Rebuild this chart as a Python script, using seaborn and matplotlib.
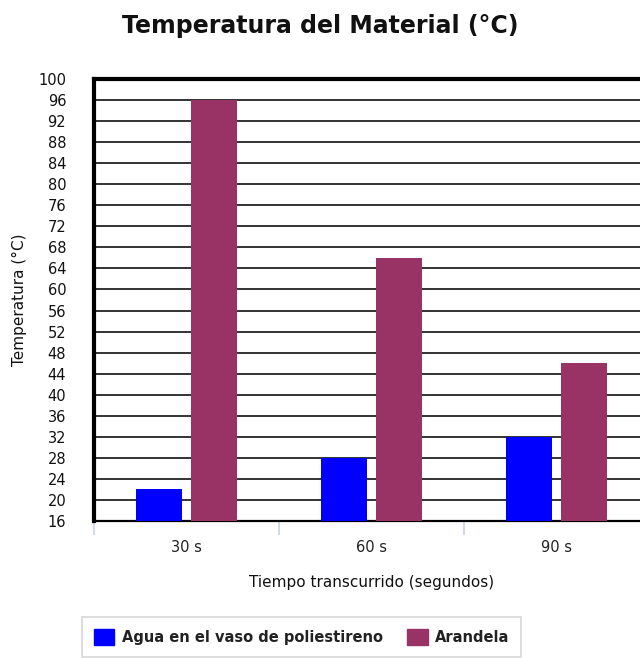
import matplotlib
matplotlib.use("Agg")
import matplotlib.pyplot as plt
import pandas as pd
import seaborn as sns

# chart values
tiempos = ["30 s", "60 s", "90 s"]
agua = [22, 28, 32]
arandela = [96, 66, 46]
series = ["Agua en el vaso de poliestireno", "Arandela"]
colores = ["#0000FF", "#993366"]
y_ticks = list(range(16, 101, 4))

df = pd.DataFrame({
    "tiempo": tiempos * 2,
    "temp": agua + arandela,
    "serie": [series[0]] * 3 + [series[1]] * 3,
})

sns.set_theme(style="white")
plt.rcParams["font.family"] = ["DejaVu Sans"]

fig = plt.figure(figsize=(6.4, 6.58), dpi=100)
ax = fig.add_axes([94 / 640, 1 - 521 / 658, 555 / 640, 442 / 658])

sns.barplot(data=df, x="tiempo", y="temp", hue="serie", palette=colores,
            saturation=1, width=0.59, gap=0.165, ax=ax, legend=False,
            zorder=3, edgecolor="none")

ax.set_ylim(16, 100)
ax.set_xlim(-0.5, 2.5)
ax.set_yticks(y_ticks)
ax.yaxis.grid(True, color="#333333", linewidth=1.4, zorder=0)
ax.set_axisbelow(True)

# category boundary ticks below the axis
ax.set_xticks([-0.5, 0.5, 1.5], minor=True)
ax.tick_params(axis="x", which="minor", length=10, width=1.2, color="#c8d3e3",
               direction="out", bottom=True)
ax.tick_params(axis="x", which="major", length=0, labelsize=10.5, pad=14,
               labelcolor="#222222")
ax.tick_params(axis="y", length=0, labelsize=10.5, pad=20, labelcolor="#111111")

for s in ["left", "top"]:
    ax.spines[s].set_linewidth(3)
    ax.spines[s].set_color("black")
ax.spines["bottom"].set_linewidth(1.6)
ax.spines["bottom"].set_color("black")
ax.spines["right"].set_visible(False)

ax.set_xlabel("Tiempo transcurrido (segundos)", fontsize=11, labelpad=14,
              color="#111111")
ax.set_ylabel("Temperatura (°C)", fontsize=11, labelpad=8, color="#111111")
fig.text(0.5, 1 - 26 / 658, "Temperatura del Material (°C)", ha="center",
         va="center", fontsize=17, fontweight="bold", color="#111111")

handles = [plt.Rectangle((0, 0), 1, 1, color=c) for c in colores]
leg = fig.legend(handles, series, loc="upper left", ncol=2,
                 bbox_to_anchor=(75 / 640, 1 - 610 / 658), frameon=True,
                 prop={"weight": "bold", "size": 10.5}, handlelength=1.4,
                 handleheight=1.3, handletextpad=0.5, columnspacing=1.7,
                 borderpad=0.8, fancybox=False, shadow=False)
leg.get_frame().set_edgecolor("#cccccc")
leg.get_frame().set_linewidth(1.2)
for t in leg.get_texts():
    t.set_color("#222222")

fig.savefig("out.png", dpi=100)
